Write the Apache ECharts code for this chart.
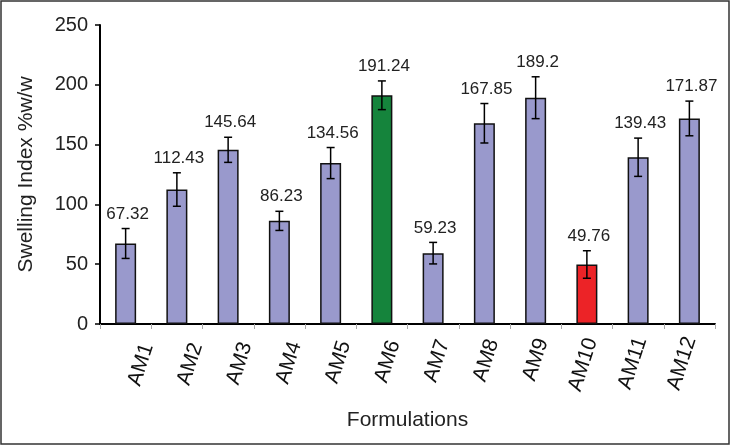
<!DOCTYPE html>
<html>
<head>
<meta charset="utf-8">
<script src="https://cdn.jsdelivr.net/npm/echarts@6/dist/echarts.min.js"></script>
<style>
  html, body { margin: 0; padding: 0; background: #fff; }
  #chart { width: 731px; height: 446px; }
</style>
</head>
<body>
<div id="chart"></div>
<script>
const categories = ['AM1', 'AM2', 'AM3', 'AM4', 'AM5', 'AM6', 'AM7', 'AM8', 'AM9', 'AM10', 'AM11', 'AM12']
const swelling = [67.32, 112.43, 145.64, 86.23, 134.56, 191.24, 59.23, 167.85, 189.2, 49.76, 139.43, 171.87]
const errors = [12.5, 14, 10.5, 8, 13, 12, 9, 16.5, 17.5, 11.5, 16, 14.5]
const yTicks = [0, 50, 100, 150, 200, 250]

const FONT = 'Liberation Sans, Arial, sans-serif'
const highlight = { AM6: '#15843c', AM10: '#ec2327' }

const chart = echarts.init(document.getElementById('chart'))

// the rotated labels drift slightly left of their ticks going right (as in the original)
const labelRich = {}
categories.forEach(function (c, i) {
  labelRich['p' + i] = { padding: [46 - 4 * i, 0, 0, 0], fontSize: 21, fontFamily: FONT, color: '#111' }
})

chart.setOption({
  animation: false,
  backgroundColor: '#fff',
  textStyle: { fontFamily: FONT },
  graphic: [
    {
      type: 'rect',
      shape: { x: 1, y: 1, width: 728, height: 443 },
      style: { fill: 'none', stroke: '#333', lineWidth: 1.5 },
      silent: true,
    },
  ],
  grid: { left: 100, right: 16, top: 25, bottom: 122 },
  xAxis: {
    type: 'category',
    data: categories,
    name: 'Formulations',
    nameLocation: 'middle',
    nameGap: 86,
    nameTextStyle: { fontSize: 21, color: '#222', fontFamily: FONT },
    axisLine: { lineStyle: { color: '#000', width: 2 } },
    axisTick: { show: true, length: 5, lineStyle: { color: '#aaa', width: 1 } },
    axisLabel: {
      interval: 0,
      rotate: 72,
      align: 'right',
      verticalAlign: 'middle',
      margin: 13,
      fontSize: 21,
      color: '#111',
      fontFamily: FONT,
      formatter: function (v, i) {
        return '{p' + i + '|' + v + '}'
      },
      rich: labelRich,
    },
  },
  yAxis: {
    type: 'value',
    min: yTicks[0],
    max: yTicks[yTicks.length - 1],
    interval: 50,
    name: 'Swelling Index %w/w',
    nameLocation: 'middle',
    nameGap: 63,
    nameTextStyle: { fontSize: 21, color: '#222', fontFamily: FONT },
    splitLine: { show: false },
    axisLine: { show: true, lineStyle: { color: '#000', width: 2 } },
    axisTick: { show: true, length: 5, lineStyle: { color: '#000', width: 1.5 } },
    axisLabel: { fontSize: 20, color: '#222', margin: 12, fontFamily: FONT },
  },
  series: [
    {
      type: 'bar',
      data: swelling,
      barWidth: 21,
      itemStyle: {
        color: function (p) {
          return highlight[categories[p.dataIndex]] || '#9999cc'
        },
        borderColor: '#111',
        borderWidth: 1.5,
      },
    },
    {
      type: 'custom',
      data: swelling.map(function (v, i) {
        return [i, v, errors[i]]
      }),
      encode: { x: 0, y: 1 },
      z: 10,
      renderItem: function (params, api) {
        const i = api.value(0)
        const v = api.value(1)
        const e = api.value(2)
        const hi = api.coord([i, v + e])
        const lo = api.coord([i, v - e])
        const x = hi[0]
        const cap = 4
        const st = { stroke: '#000', lineWidth: 1.5 }
        return {
          type: 'group',
          children: [
            { type: 'line', shape: { x1: x, y1: hi[1], x2: x, y2: lo[1] }, style: st },
            { type: 'line', shape: { x1: x - cap, y1: hi[1], x2: x + cap, y2: hi[1] }, style: st },
            { type: 'line', shape: { x1: x - cap, y1: lo[1], x2: x + cap, y2: lo[1] }, style: st },
            {
              type: 'text',
              x: x + 2,
              y: hi[1] - 6,
              style: {
                text: String(swelling[i]),
                align: 'center',
                verticalAlign: 'bottom',
                fontSize: 17,
                fontFamily: FONT,
                fill: '#222',
              },
            },
          ],
        }
      },
    },
  ],
})
</script>
</body>
</html>
